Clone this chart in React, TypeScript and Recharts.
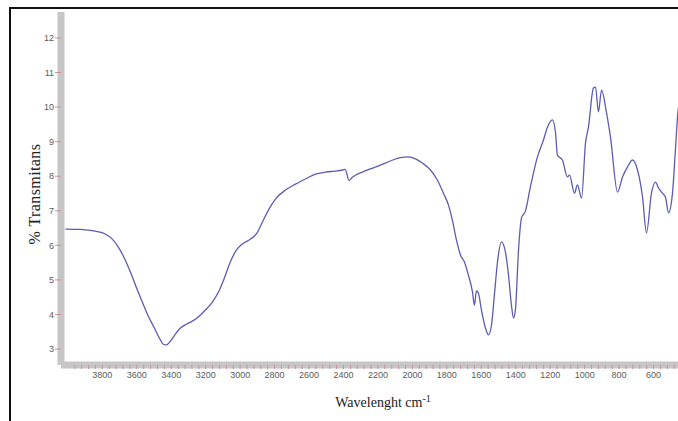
import { LineChart, Line, XAxis, YAxis } from "recharts";

// ── Data ──────────────────────────────────────────────────────────────────────

const wavenumbers = [
  4015, 3928, 3841, 3783, 3742, 3707, 3672, 3637, 3603, 3568, 3533, 3498, 3469, 3446, 3428,
  3405, 3376, 3347, 3312, 3277, 3243, 3202, 3161, 3126, 3092, 3057, 3022, 2987, 2941, 2906,
  2871, 2836, 2795, 2737, 2679, 2621, 2563, 2505, 2447, 2406, 2390, 2368, 2350, 2331, 2290,
  2244, 2186, 2128, 2070, 2023, 1982, 1942, 1895, 1855, 1820, 1791, 1768, 1744, 1721, 1698,
  1675, 1651, 1640, 1628, 1617, 1599, 1576, 1558, 1541, 1524, 1506, 1483, 1460, 1442, 1425,
  1413, 1402, 1384, 1367, 1344, 1315, 1274, 1239, 1216, 1187, 1169, 1158, 1129, 1100, 1088,
  1059, 1042, 1018, 995, 978, 949, 937, 920, 902, 873, 850, 809, 780, 751, 722,
  693, 664, 641, 612, 589, 571, 548, 531, 513, 490, 473, 455, 420,
];

const transmittance = [
  6.47, 6.46, 6.41, 6.33, 6.18, 5.95, 5.63, 5.23, 4.79, 4.36, 3.95, 3.61, 3.32, 3.14, 3.12,
  3.23, 3.43, 3.61, 3.72, 3.81, 3.93, 4.13, 4.36, 4.65, 5.05, 5.52, 5.86, 6.04, 6.18, 6.33,
  6.67, 7.02, 7.34, 7.6, 7.77, 7.92, 8.06, 8.12, 8.15, 8.18, 8.2, 7.88, 7.96, 8.03, 8.12,
  8.21, 8.32, 8.44, 8.54, 8.56, 8.5, 8.38, 8.18, 7.89, 7.51, 7.17, 6.73, 6.15, 5.72, 5.52,
  5.14, 4.65, 4.27, 4.68, 4.62, 4.13, 3.61, 3.41, 3.69, 4.56, 5.52, 6.1, 5.81, 5.14, 4.27,
  3.9, 4.13, 5.86, 6.79, 6.99, 7.69, 8.56, 9.05, 9.42, 9.63, 9.25, 8.61, 8.47, 7.98, 8.03,
  7.51, 7.75, 7.37, 8.96, 9.42, 10.55, 10.58, 9.86, 10.49, 9.83, 9.13, 7.54, 7.98, 8.27, 8.47,
  8.18, 7.4, 6.36, 7.51, 7.83, 7.66, 7.51, 7.4, 6.94, 7.51, 8.76, 10.0, 10.4,
];

const xTicks: number[] = [];
for (let w = 3960; w >= 440; w -= 40) xTicks.push(w);
const yTicks = [3, 4, 5, 6, 7, 8, 9, 10, 11, 12];

const Y_LABEL = "% Transmitans";
const X_LABEL = "Wavelenght cm";
const X_LABEL_SUP = "-1";

const data = wavenumbers.map((w, i) => ({ w, t: transmittance[i] }));

// ── Style ─────────────────────────────────────────────────────────────────────

const SERIF = "'Liberation Serif', 'Times New Roman', serif";
const SANS = "'Liberation Sans', Arial, sans-serif";
const STRIP = "#c6c6c6";
const PINK = "#cf8d9a";
const TICK_STYLE = { fontFamily: SANS, fontSize: 9, fill: "#5a5a5a" };

export default function App() {
  return (
    <div
      style={{
        position: "absolute",
        left: 0,
        top: 0,
        width: 678,
        height: 421,
        overflow: "hidden",
        background: "#fff",
      }}
    >
      {/* frame */}
      <div
        style={{
          position: "absolute",
          left: 9,
          top: 7,
          width: 700,
          height: 430,
          borderLeft: "2px solid #111",
          borderTop: "2px solid #111",
        }}
      />

      <div style={{ position: "absolute", left: 0, top: 0 }}>
        <LineChart
          width={700}
          height={421}
          data={data}
          margin={{ top: 12, right: 12, bottom: 26, left: 0 }}
        >
          <XAxis
            dataKey="w"
            type="number"
            domain={[400, 4040]}
            reversed
            ticks={xTicks}
            interval={0}
            tickFormatter={(v: number) => (v % 200 === 0 ? String(v) : "")}
            tick={TICK_STYLE}
            tickSize={4}
            tickMargin={3}
            tickLine={{ stroke: PINK, strokeWidth: 1 }}
            axisLine={{ stroke: STRIP, strokeWidth: 7 }}
            height={30}
            allowDataOverflow
          />
          <YAxis
            type="number"
            domain={[2.54, 12.75]}
            ticks={yTicks}
            interval={0}
            tick={TICK_STYLE}
            tickSize={6}
            tickMargin={1}
            tickLine={{ stroke: PINK, strokeWidth: 1 }}
            axisLine={{ stroke: STRIP, strokeWidth: 7 }}
            width={61}
            allowDataOverflow
          />
          <Line
            dataKey="t"
            type="monotone"
            stroke="#5c5cb4"
            strokeWidth={1.3}
            dot={false}
            isAnimationActive={false}
          />
        </LineChart>
      </div>

      {/* axis titles */}
      <div
        style={{
          position: "absolute",
          left: 35,
          top: 194,
          transform: "translate(-50%, -50%) rotate(-90deg)",
          whiteSpace: "nowrap",
          fontFamily: SERIF,
          fontSize: 16,
          letterSpacing: 0.4,
          color: "#222",
        }}
      >
        {Y_LABEL}
      </div>
      <div
        style={{
          position: "absolute",
          left: 383,
          top: 402,
          transform: "translate(-50%, -50%)",
          whiteSpace: "nowrap",
          fontFamily: SERIF,
          fontSize: 14,
          color: "#222",
        }}
      >
        {X_LABEL}
        <sup style={{ fontSize: 10 }}>{X_LABEL_SUP}</sup>
      </div>
    </div>
  );
}
